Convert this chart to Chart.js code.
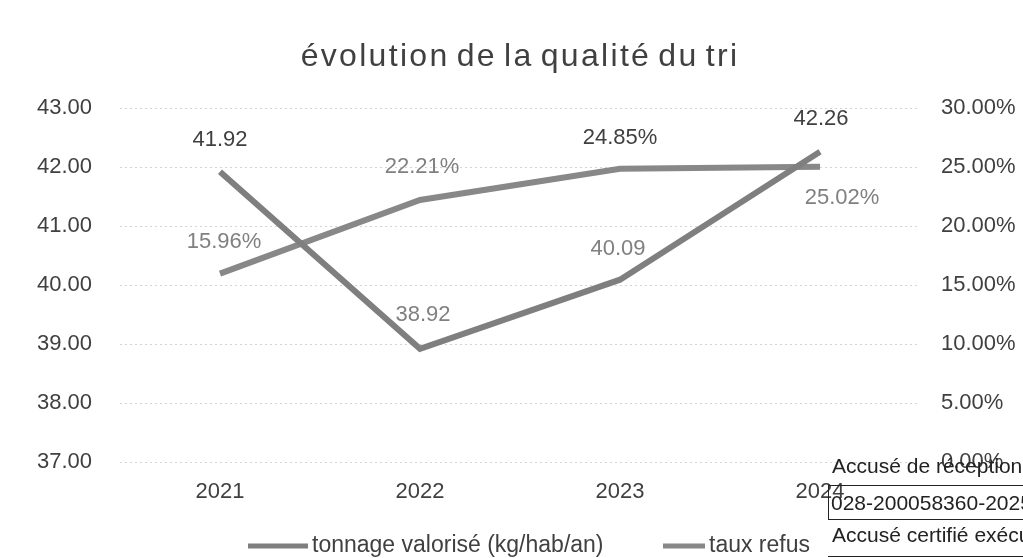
<!DOCTYPE html>
<html>
<head>
<meta charset="utf-8">
<script src="https://cdn.jsdelivr.net/npm/chart.js@4/dist/chart.umd.min.js"></script>
<style>
  body { margin: 0; background: #fff; }
  #wrap { position: relative; width: 1023px; height: 558px; overflow: hidden; }
  .stamp { position: absolute; font-family: 'Liberation Sans', Arial, sans-serif; font-size: 21px; color: #222; white-space: nowrap; }
</style>
</head>
<body>
<div id="wrap">
  <canvas id="myChart" width="1023" height="558"></canvas>
  <div class="stamp" style="left:832px; top:454px;">Accusé de réception</div>
  <div class="stamp" style="left:828px; top:485px; width:220px; height:33px; border:1px solid #222; padding-left:2px; line-height:33px;">028-200058360-2025</div>
  <div class="stamp" style="left:832px; top:523px;">Accusé certifié exécutoire</div>
  <div style="position:absolute; left:828px; top:556px; width:200px; border-top:1px solid #222;"></div>
</div>
<script>
// data
var years = ["2021", "2022", "2023", "2024"];
var tonnage = [41.92, 38.92, 40.09, 42.26];   // kg/hab/an
var tauxRefus = [15.96, 22.21, 24.85, 25.02]; // %
var titre = "évolution de la qualité du tri";

// label placement (dx, dy from the point) and colour, one per point
var labelStyle = {
  0: { dx: [0, 3, -2, 1], dy: [-32, -34, -31, -33], color: ["#404040", "#808080", "#808080", "#404040"] },
  1: { dx: [4, 2, 0, 22], dy: [-32, -33, -31, 31], color: ["#808080", "#808080", "#404040", "#808080"] }
};

var FONT = "'Liberation Sans', Arial, sans-serif";

var pointLabels = {
  id: 'pointLabels',
  afterDatasetsDraw(chart) {
    var ctx = chart.ctx;
    ctx.save();
    ctx.font = "22px " + FONT;
    ctx.textAlign = "center";
    ctx.textBaseline = "middle";
    chart.data.datasets.forEach(function (ds, i) {
      var meta = chart.getDatasetMeta(i);
      var st = labelStyle[i];
      meta.data.forEach(function (pt, j) {
        var v = ds.data[j];
        var txt = i == 0 ? v.toFixed(2) : v.toFixed(2) + "%";
        ctx.fillStyle = st.color[j];
        ctx.fillText(txt, pt.x + st.dx[j], pt.y + st.dy[j]);
      });
    });
    ctx.restore();
  }
};

// title + bottom legend, drawn by hand so the spacing matches the original
var decor = {
  id: 'decor',
  afterDraw(chart) {
    var ctx = chart.ctx;
    var a = chart.chartArea;
    ctx.save();
    // title
    ctx.font = "32px " + FONT;
    ctx.letterSpacing = "2.3px";
    ctx.wordSpacing = "-4px";
    ctx.fillStyle = '#404040';
    ctx.textAlign = 'center';
    ctx.textBaseline = 'alphabetic';
    ctx.fillText(titre, (a.left + a.right) / 2, 66);
    ctx.letterSpacing = "0px";
    ctx.wordSpacing = "0px";

    // legend
    var items = [{ x: 248, w: 60 }, { x: 663, w: 42 }];
    ctx.font = "23px " + FONT;
    ctx.textAlign = 'left';
    ctx.textBaseline = "middle";
    chart.data.datasets.forEach(function (ds, i) {
      var it = items[i];
      var y = 546;
      ctx.strokeStyle = ds.borderColor;
      ctx.lineWidth = 5;
      ctx.beginPath();
      ctx.moveTo(it.x, y);
      ctx.lineTo(it.x + it.w, y);
      ctx.stroke();
      ctx.fillStyle = '#404040';
      ctx.fillText(ds.label, it.x + it.w + 4, y);
    });
    ctx.restore();
  }
};

var ctx = document.getElementById('myChart').getContext('2d');
var chart = new Chart(ctx, {
  type: 'line',
  data: {
    labels: years,
    datasets: [{
      label: "tonnage valorisé (kg/hab/an)",
      data: tonnage,
      borderColor: '#7f7f7f',
      backgroundColor: '#7f7f7f',
      borderWidth: 6,
      pointRadius: 0,
      tension: 0,
      yAxisID: 'y'
    }, {
      label: "taux refus",
      data: tauxRefus,
      borderColor: '#888888',
      backgroundColor: '#888888',
      borderWidth: 6,
      pointRadius: 0,
      tension: 0,
      yAxisID: 'y1'
    }]
  },
  options: {
    responsive: false,
    animation: false,
    layout: { padding: { top: 108, left: 0, right: 0, bottom: 0 } },
    scales: {
      x: {
        offset: true,
        grid: { display: false },
        border: { display: false },
        ticks: { color: '#404040', font: { size: 22, family: FONT }, padding: 9 },
        afterFit: function (s) { s.height = 96; }
      },
      y: {
        position: 'left',
        min: 37, max: 43,
        ticks: { stepSize: 1, color: '#404040', font: { size: 22, family: FONT }, padding: 28,
          callback: function (v) { return v.toFixed(2); } },
        grid: { color: '#d4d4d4', lineWidth: 1, drawTicks: false },
        border: { display: false, dash: [2, 3] },
        afterFit: function (s) { s.width = 120; }
      },
      y1: {
        position: 'right',
        min: 0, max: 30,
        ticks: { stepSize: 5, color: '#404040', font: { size: 22, family: FONT }, padding: 13,
          callback: function (v) { return v.toFixed(2) + "%"; } },
        grid: { display: false },
        border: { display: false },
        afterFit: function (s) { s.width = 103; }
      }
    },
    plugins: {
      title: { display: false },
      legend: { display: false },
      tooltip: { enabled: false }
    }
  },
  plugins: [pointLabels, decor]
});
</script>
</body>
</html>
